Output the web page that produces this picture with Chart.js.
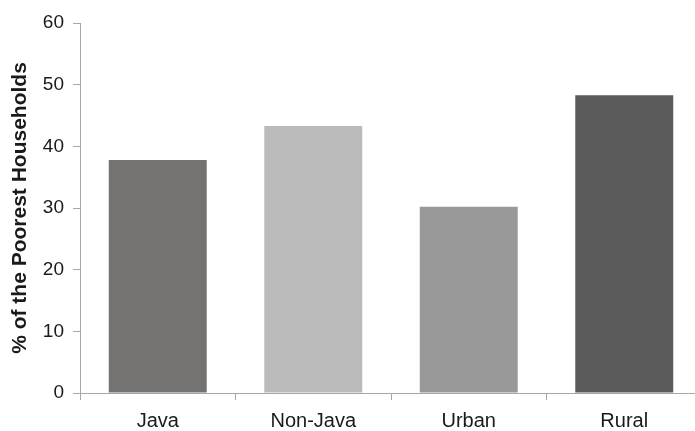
<!DOCTYPE html>
<html>
<head>
<meta charset="utf-8">
<script src="https://cdn.jsdelivr.net/npm/chart.js@4"></script>
<style>
  html, body { margin: 0; padding: 0; background: #fff; overflow: hidden; }
  #wrap { width: 704px; height: 431px; }
</style>
</head>
<body>
<div id="wrap"><canvas id="chart"></canvas></div>
<script>
// Regions and share of poorest households (%)
const regions = ['Java', 'Non-Java', 'Urban', 'Rural'];
const poorShare = [37.8, 43.3, 30.2, 48.3];
const barColors = ['#747371', '#bbbbbb', '#999999', '#5a5a5a'];
const yTicks = [0, 10, 20, 30, 40, 50, 60];

const axisGrey = '#a6a6a6';
Chart.defaults.font.family = '"Liberation Sans", Arial, sans-serif';
Chart.defaults.color = '#1a1a1a';

new Chart(document.getElementById('chart'), {
    type: 'bar',
    data: {
        labels: regions,
        datasets: [{
            data: poorShare,
            backgroundColor: barColors,
            borderWidth: 0,
            categoryPercentage: 1.0,
            barPercentage: 0.63
        }]
    },
    options: {
        responsive: true,
        maintainAspectRatio: false,
        animation: false,
        layout: { padding: { top: 23, right: 2, left: 0, bottom: 0 } },
        plugins: { legend: { display: false }, tooltip: { enabled: false } },
        scales: {
            x: {
                grid: { offset: true, drawOnChartArea: false, color: axisGrey, tickLength: 7 },
                border: { color: axisGrey, width: 1 },
                ticks: { font: { size: 20 }, padding: 9 },
                afterFit: (s) => { s.height = 38; }
            },
            y: {
                min: 0, max: 60,
                afterBuildTicks: (s) => { s.ticks = yTicks.map(v => ({ value: v })); },
                grid: { drawOnChartArea: false, color: axisGrey, tickLength: 7 },
                border: { color: axisGrey, width: 1 },
                ticks: { font: { size: 19 }, padding: 9 },
                title: {
                    display: true,
                    text: '% of the Poorest Households',
                    font: { size: 21, weight: 'bold' },
                    padding: { top: 8, bottom: 0 }
                },
                afterFit: (s) => { s.width = 80; }
            }
        }
    }
});
</script>
</body>
</html>
